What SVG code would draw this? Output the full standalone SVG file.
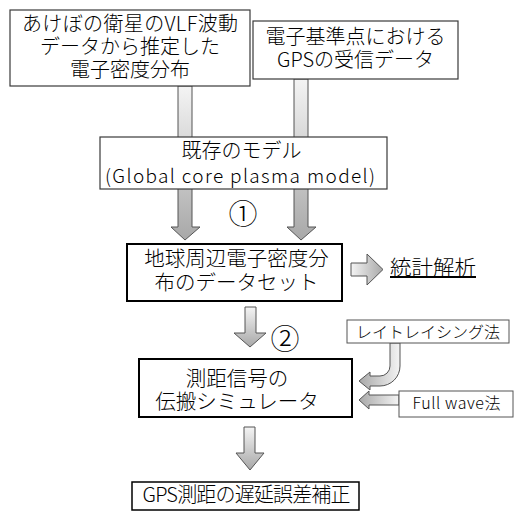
<svg xmlns="http://www.w3.org/2000/svg" width="515" height="512" viewBox="0 0 515 512">
  <defs>
    <linearGradient id="gV" x1="0" y1="0" x2="0" y2="1">
      <stop offset="0" stop-color="#f4f4f4"/>
      <stop offset="1" stop-color="#a8a8a8"/>
    </linearGradient>
    <linearGradient id="gH" x1="0" y1="0" x2="1" y2="0">
      <stop offset="0" stop-color="#f4f4f4"/>
      <stop offset="1" stop-color="#a8a8a8"/>
    </linearGradient>
    <linearGradient id="gHr" x1="1" y1="0" x2="0" y2="0">
      <stop offset="0" stop-color="#f4f4f4"/>
      <stop offset="1" stop-color="#a8a8a8"/>
    </linearGradient>
  </defs>
  <style>
    text { font-family: 'Noto Sans CJK JP', sans-serif; font-weight: 300; fill: #000; }
    .t20 { font-size: 20px; text-anchor: middle; }
    .t16 { font-size: 16px; text-anchor: middle; }
    .num { font-size: 29px; text-anchor: middle; }
    .box { fill: #fff; stroke: #3a3a3a; stroke-width: 1.2; }
    .boxb { fill: #fff; stroke: #000; stroke-width: 2; }
    .boxs { fill: #fff; stroke: #555; stroke-width: 1; }
    .arr { stroke: #555; stroke-width: 1; stroke-linejoin: miter; }
  </style>

  <g id="connectors">
    <path class="arr" fill="url(#gV)" d="M178,86 L192,86 L192,227 L200,227 L185,240 L171,227 L178,227 Z"/>
    <path class="arr" fill="url(#gV)" d="M294,79 L308,79 L308,227 L316,227 L301,240 L287,227 L294,227 Z"/>
    <path class="arr" fill="url(#gH)" d="M351,263 L367,263 L367,254 L383,269.5 L367,285 L367,276 L351,276 Z"/>
    <path class="arr" fill="url(#gV)" d="M245,307 L256,307 L256,333 L266,333 L250,347 L234,333 L245,333 Z"/>
    <path class="arr" fill="url(#gV)" d="M244,427 L255,427 L255,453 L264,453 L250,470 L236,453 L244,453 Z"/>
    <path class="arr" fill="url(#gHr)" d="M390,343 L400,343 L400,366 A20,20 0 0 1 380,386 L370,386 L370,390 L359,381 L370,372 L370,376 L380,376 A10,10 0 0 0 390,366 Z"/>
    <path class="arr" fill="url(#gHr)" d="M399,395 L369,395 L369,391 L359,400 L369,409 L369,405 L399,405 Z"/>
  </g>

  <g id="node-akebono">
    <rect class="box" x="10" y="10" width="240" height="76"/>
    <text class="t20" x="130" y="31" textLength="216" lengthAdjust="spacing">あけぼの衛星のVLF波動</text>
    <text class="t20" x="130" y="54">データから推定した</text>
    <text class="t20" x="130" y="77">電子密度分布</text>
  </g>

  <g id="node-gps">
    <rect class="box" x="253" y="21" width="205" height="58"/>
    <text class="t20" x="355.5" y="44">電子基準点における</text>
    <text class="t20" x="355.5" y="67">GPSの受信データ</text>
  </g>

  <g id="node-model">
    <rect class="box" x="100" y="137" width="287" height="52"/>
    <text class="t20" x="241.5" y="158">既存のモデル</text>
    <text class="t20" x="240" y="183" style="font-size:19px" textLength="270" lengthAdjust="spacing">(Global core plasma model)</text>
  </g>

  <g id="label-1">
    <text class="num" x="243" y="225">①</text>
  </g>

  <g id="node-dataset">
    <rect class="boxb" x="127" y="244" width="215" height="57"/>
    <text class="t20" x="236.5" y="266" style="font-size:20.5px">地球周辺電子密度分</text>
    <text class="t20" x="236.5" y="290" style="font-size:20.5px">布のデータセット</text>
  </g>

  <g id="node-stat">
    <text x="390" y="275" style="font-size:20px; text-decoration: underline;" textLength="86" lengthAdjust="spacingAndGlyphs">統計解析</text>
  </g>

  <g id="label-2">
    <text class="num" x="285" y="350">②</text>
  </g>

  <g id="node-simulator">
    <rect class="boxb" x="139" y="359" width="213" height="58"/>
    <text class="t20" x="237" y="386" style="font-size:20.5px">測距信号の</text>
    <text class="t20" x="237" y="409" style="font-size:20.5px">伝搬シミュレータ</text>
  </g>

  <g id="node-raytracing">
    <rect class="boxs" x="347" y="320" width="162" height="23"/>
    <text class="t16" x="428" y="337.5">レイトレイシング法</text>
  </g>

  <g id="node-fullwave">
    <rect class="boxs" x="399" y="391" width="114" height="26"/>
    <text class="t16" x="456.5" y="409" textLength="88" lengthAdjust="spacing">Full wave法</text>
  </g>

  <g id="node-correction">
    <rect class="box" x="132" y="482" width="227" height="28" style="stroke:#000;stroke-width:1.5"/>
    <text class="t20" x="246.5" y="502" textLength="208" lengthAdjust="spacing">GPS測距の遅延誤差補正</text>
  </g>
</svg>
